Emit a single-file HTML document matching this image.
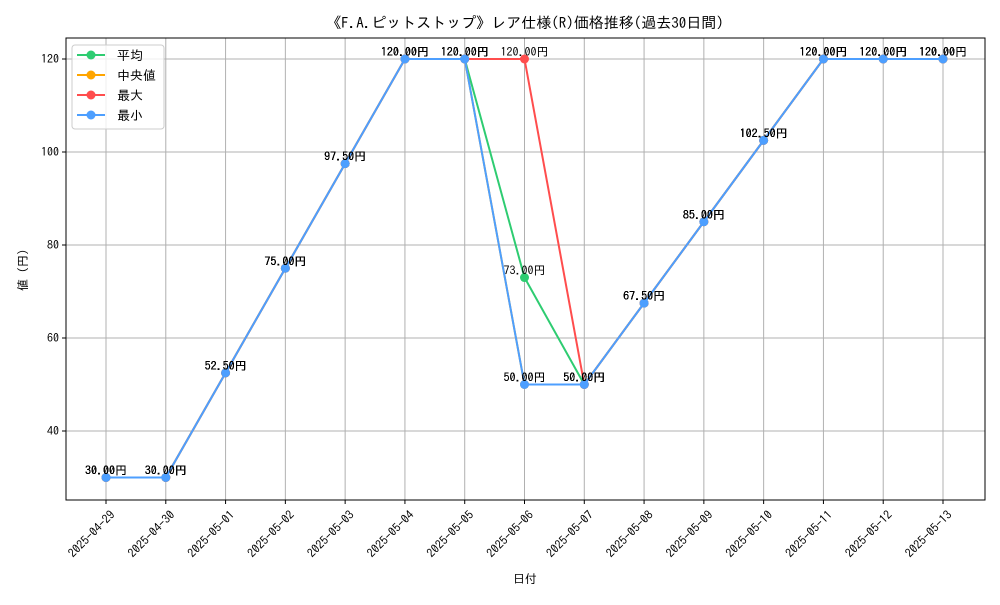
<!DOCTYPE html>
<html><head><meta charset="utf-8"><style>
body{margin:0;background:#fff}
text{font-family:"IPAGothic","Liberation Sans","Noto Sans CJK JP",sans-serif}
</style></head><body>
<svg id="c" width="1000" height="600" xmlns="http://www.w3.org/2000/svg"></svg>
<script>
const categories=["2025-04-29","2025-04-30","2025-05-01","2025-05-02","2025-05-03","2025-05-04","2025-05-05","2025-05-06","2025-05-07","2025-05-08","2025-05-09","2025-05-10","2025-05-11","2025-05-12","2025-05-13"];
const avgValues=[30,30,52.5,75,97.5,120,120,73,50,67.5,85,102.5,120,120,120];
const medianValues=[30,30,52.5,75,97.5,120,120,50,50,67.5,85,102.5,120,120,120];
const maxValues=[30,30,52.5,75,97.5,120,120,120,50,67.5,85,102.5,120,120,120];
const minValues=[30,30,52.5,75,97.5,120,120,50,50,67.5,85,102.5,120,120,120];
const yTicks=[40,60,80,100,120];
const seriesNames=["平均","中央値","最大","最小"];
const colors=["#2ecc71","#ffa500","#ff4d4d","#4d9fff"];
const L=66,R=985,T=38,B=500;
const xS=i=>106+i*(943-106)/(categories.length-1);
const yS=v=>431-(v-40)*(372/80);
const svg=document.getElementById('c');
const NS="http://www.w3.org/2000/svg";
function mk(tag,attrs,parent){const e=document.createElementNS(NS,tag);for(const k in attrs)e.setAttribute(k,attrs[k]);(parent||svg).appendChild(e);return e;}
// grid
categories.forEach((c,i)=>{
 const g=mk('line',{x1:xS(i),x2:xS(i),y1:T,y2:B,stroke:"#b0b0b0","stroke-width":1});
 
 
 mk('line',{x1:xS(i),x2:xS(i),y1:B,y2:B+4,stroke:"#000"});
 const t=mk('text',{x:xS(i)+4,y:B+10,"font-size":12,"text-anchor":"end",transform:`rotate(-45 ${xS(i)+4} ${B+10})`,"dominant-baseline":"hanging"});
 t.textContent=c;
 
 
});
yTicks.forEach(v=>{
 const g=mk('line',{x1:L,x2:R,y1:yS(v),y2:yS(v),stroke:"#b0b0b0","stroke-width":1});
 
 
 mk('line',{x1:L-4,x2:L,y1:yS(v),y2:yS(v),stroke:"#000"});
 const t=mk('text',{x:L-7,y:yS(v)+4,"font-size":12,"text-anchor":"end"});
 t.textContent=v;
 
 
});
const fr=mk('rect',{x:L,y:T,width:R-L,height:B-T,fill:"none",stroke:"#000","stroke-width":1});


const all=[avgValues,medianValues,maxValues,minValues];
all.forEach((vals,s)=>{
 const p=mk('polyline',{points:vals.map((v,i)=>xS(i)+","+yS(v)).join(" "),fill:"none",stroke:colors[s],"stroke-width":2});
 
 
 vals.forEach((v,i)=>{
  const c=mk('circle',{cx:xS(i),cy:yS(v),r:4.5,fill:colors[s]});
  
  
 });
});
all.forEach(vals=>vals.forEach((v,i)=>{
 const t=mk('text',{x:xS(i),y:yS(v)-3,"font-size":12,"text-anchor":"middle"});
 t.textContent=v.toFixed(2)+"円";
 
 
}));
// legend
const lg=mk('g',{});


mk('rect',{x:72,y:45,width:92,height:84,rx:3,fill:"#fff","fill-opacity":0.8,stroke:"#ccc"},lg);
seriesNames.forEach((n,s)=>{
 const y=55+s*20;
 mk('line',{x1:77,x2:105,y1:y,y2:y,stroke:colors[s],"stroke-width":2},lg);
 mk('circle',{cx:91,cy:y,r:4.5,fill:colors[s]},lg);
 const t=mk('text',{x:117,y:y+5,"font-size":13},lg);
 t.textContent=n;
 
 
});
const ti=mk('text',{x:525,y:28,"font-size":15,"text-anchor":"middle"});
ti.textContent="《F.A.ピットストップ》レア仕様(R)価格推移(過去30日間)";


const xt=mk('text',{x:525,y:583,"font-size":12,"text-anchor":"middle"});
xt.textContent="日付";


const yt=mk('text',{x:27,y:270,"font-size":12,"text-anchor":"middle",transform:"rotate(-90 27 270)"});
yt.textContent="値 (円)";


</script>
</body></html>
